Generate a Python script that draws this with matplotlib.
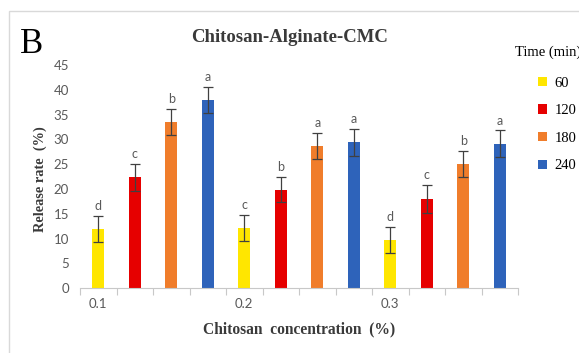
import matplotlib
matplotlib.use("Agg")
import matplotlib.pyplot as plt
from matplotlib.patches import Rectangle
import numpy as np

# Chitosan concentration groups and release times
groups = ["0.1", "0.2", "0.3"]
times = ["60", "120", "180", "240"]

# Release rate (%) per time, one value per concentration group
rate_60 = [12.0, 12.1, 9.7]
rate_120 = [22.4, 19.9, 18.0]
rate_180 = [33.5, 28.7, 25.1]
rate_240 = [38.0, 29.4, 29.1]

# Standard deviations
err_60 = [2.6, 2.6, 2.6]
err_120 = [2.7, 2.6, 2.8]
err_180 = [2.7, 2.6, 2.6]
err_240 = [2.6, 2.7, 2.7]

# Significance letters
let_60 = ["d", "c", "d"]
let_120 = ["c", "b", "c"]
let_180 = ["b", "a", "b"]
let_240 = ["a", "a", "a"]

yticks = [0, 5, 10, 15, 20, 25, 30, 35, 40, 45]

series = [
    (rate_60, err_60, let_60, "#FFE600"),
    (rate_120, err_120, let_120, "#E60000"),
    (rate_180, err_180, let_180, "#F07D2B"),
    (rate_240, err_240, let_240, "#2E63BA"),
]

SERIF = "Liberation Serif"
SANS = "Lato"
TXT = "#3a3a3a"
TICK = "#595959"

fig = plt.figure(figsize=(5.79, 3.53), dpi=100)
ax = fig.add_axes([0.1382, 0.1833, 0.7565, 0.6326])

n_series = len(series)
n_slots = n_series * len(groups)
handles = []
for s, (vals, errs, lets, col) in enumerate(series):
    xs = np.arange(len(groups)) * n_series + s
    bars = ax.bar(xs, vals, width=0.33, color=col, zorder=2)
    handles.append(bars)
    ax.errorbar(xs, vals, yerr=errs, fmt="none", ecolor="#404040",
                elinewidth=0.9, capsize=3.5, capthick=0.9, zorder=3)
    for x, v, e, l in zip(xs, vals, errs, lets):
        ax.text(x, v + e + 0.8, l, ha="center", va="bottom",
                fontsize=9, family=SANS, color=TICK)

ax.set_xlim(-0.5, n_slots - 0.5)
ax.set_ylim(0, 45)
ax.set_yticks(yticks)
ax.set_yticklabels([str(t) for t in yticks], family=SANS, fontsize=9.5, color=TICK)
ax.tick_params(axis="y", length=0, pad=8)

# category labels sit under the first bar of each group
ax.set_xticks(np.arange(len(groups)) * n_series)
ax.set_xticklabels(groups, family=SANS, fontsize=9.5, color=TICK)
ax.tick_params(axis="x", length=0, pad=7)
ax.set_xticks(np.arange(n_slots + 1) - 0.5, minor=True)
ax.tick_params(axis="x", which="minor", length=5, color="#c8c8c8", width=0.8)

for sp in ["top", "right", "left"]:
    ax.spines[sp].set_visible(False)
ax.spines["bottom"].set_color("#c8c8c8")
ax.spines["bottom"].set_linewidth(0.8)

ax.set_ylabel("Release rate  (%)", family=SERIF, fontweight="bold",
              fontsize=10.3, color=TXT)
ax.yaxis.set_label_coords(-0.075, 0.49)
ax.set_xlabel("Chitosan  concentration  (%)", family=SERIF, fontweight="bold",
              fontsize=11.2, color=TXT, labelpad=8)

fig.text(0.5, 0.895, "Chitosan-Alginate-CMC", ha="center", va="center",
         family=SERIF, fontweight="bold", fontsize=13.5, color=TXT)
fig.text(0.035, 0.875, "B", ha="left", va="center", family=SERIF,
         fontsize=25, color="black")

fig.text(0.889, 0.852, "Time (min)", ha="left", va="center", family=SERIF,
         fontsize=10.5, color="black")
fig.legend(handles, times, loc="upper left", bbox_to_anchor=(0.93, 0.783),
           frameon=False, prop={"family": SERIF, "size": 10.5},
           handlelength=0.6, handleheight=0.6, handletextpad=0.5,
           labelspacing=1.0, borderaxespad=0, borderpad=0)

fig.patches.append(Rectangle((9 / 579, -0.05), 1.0, 0.05 + 1 - 11 / 353,
                             transform=fig.transFigure, fill=False,
                             edgecolor="#d9d9d9", linewidth=1.0))

fig.savefig("out.png", dpi=100)
